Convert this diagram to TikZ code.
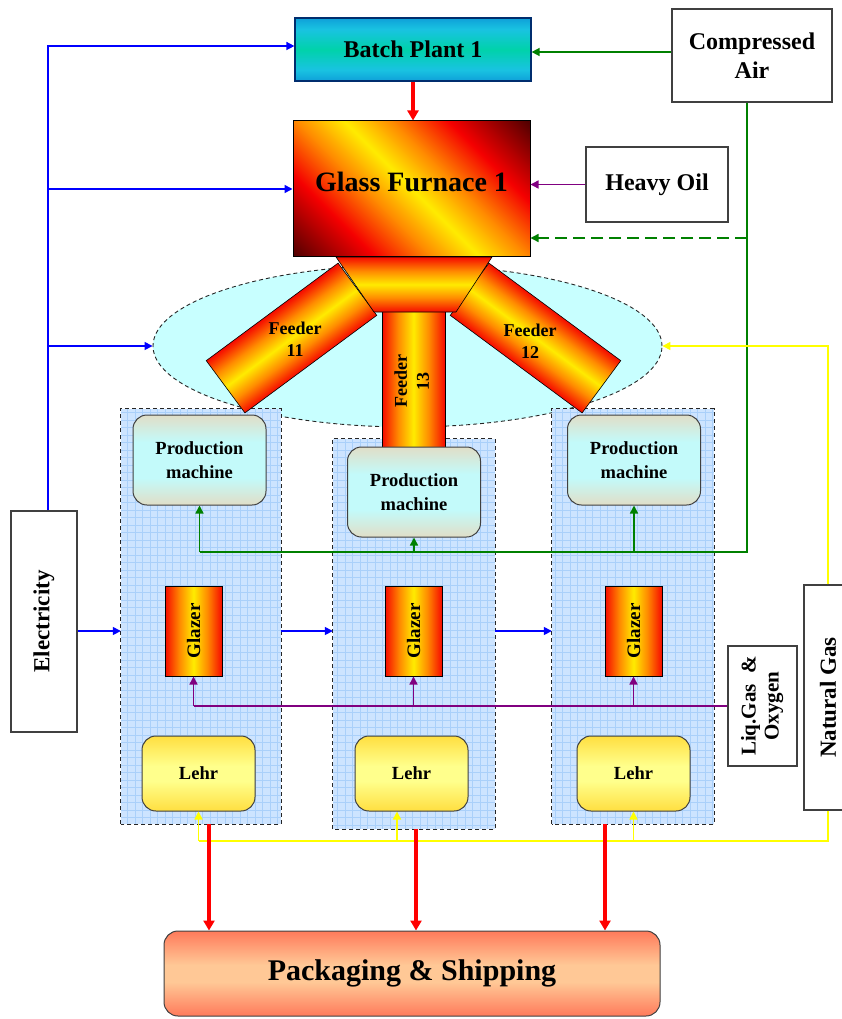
\documentclass[tikz,border=0pt]{standalone}
\usepackage{fontspec}
\setmainfont{Liberation Serif}
\usepackage{graphicx}
\usetikzlibrary{arrows.meta,calc,shapes.geometric}

\definecolor{boxgray}{RGB}{64,64,64}
\definecolor{bpdark}{RGB}{0,45,110}
\definecolor{bpblue}{RGB}{0,110,205}
\definecolor{bpcyan}{RGB}{25,195,225}
\definecolor{bpteal}{RGB}{0,210,170}
\definecolor{dkred}{RGB}{85,0,0}
\definecolor{mred}{RGB}{170,0,0}
\definecolor{rred}{RGB}{245,0,0}
\definecolor{orng}{RGB}{255,140,0}
\definecolor{yel}{RGB}{255,235,0}
\definecolor{peach}{RGB}{250,198,155}
\definecolor{lcyan}{RGB}{195,250,250}
\definecolor{gold}{RGB}{255,195,0}
\definecolor{lyel}{RGB}{255,255,140}
\definecolor{pkred}{RGB}{255,20,20}
\definecolor{pkmid}{RGB}{255,95,70}
\definecolor{pkpeach}{RGB}{255,200,150}
\definecolor{ellc}{RGB}{200,255,255}
\definecolor{colfill}{RGB}{205,228,255}
\definecolor{colgrid}{RGB}{170,208,250}
\definecolor{lnblue}{RGB}{0,0,255}
\definecolor{lngreen}{RGB}{0,128,0}
\definecolor{lnpurple}{RGB}{128,0,128}
\definecolor{lnyellow}{RGB}{255,255,0}
\definecolor{lnred}{RGB}{255,0,0}

\pgfdeclareverticalshading{batchsh}{100bp}{color(0bp)=(bpdark); color(12bp)=(bpblue); color(34bp)=(bpcyan); color(50bp)=(bpteal); color(66bp)=(bpcyan); color(88bp)=(bpblue); color(100bp)=(bpdark)}
\pgfdeclareverticalshading{furnsh}{100bp}{color(0bp)=(dkred); color(15bp)=(dkred); color(23bp)=(mred); color(30bp)=(rred); color(41bp)=(orng); color(50bp)=(yel); color(59bp)=(orng); color(70bp)=(rred); color(77bp)=(mred); color(85bp)=(dkred); color(100bp)=(dkred)}
\pgfdeclarehorizontalshading{glazsh}{100bp}{color(0bp)=(dkred); color(10bp)=(mred); color(24bp)=(rred); color(38bp)=(orng); color(50bp)=(yel); color(62bp)=(orng); color(76bp)=(rred); color(90bp)=(mred); color(100bp)=(dkred)}
\pgfdeclareverticalshading{feedsh}{100bp}{color(0bp)=(dkred); color(10bp)=(mred); color(24bp)=(rred); color(38bp)=(orng); color(50bp)=(yel); color(62bp)=(orng); color(76bp)=(rred); color(90bp)=(mred); color(100bp)=(dkred)}
\pgfdeclareverticalshading{prodsh}{100bp}{color(0bp)=(peach); color(12bp)=(peach); color(40bp)=(lcyan); color(60bp)=(lcyan); color(88bp)=(peach); color(100bp)=(peach)}
\pgfdeclareverticalshading{lehrsh}{100bp}{color(0bp)=(gold); color(8bp)=(gold); color(45bp)=(lyel); color(55bp)=(lyel); color(92bp)=(gold); color(100bp)=(gold)}
\pgfdeclareverticalshading{packsh}{100bp}{color(0bp)=(pkred); color(18bp)=(pkmid); color(45bp)=(pkpeach); color(55bp)=(pkpeach); color(82bp)=(pkmid); color(100bp)=(pkred)}

\newcommand\myfs[2]{\fontsize{#1}{#2}\selectfont\bfseries}

\tikzset{
  bx/.style={draw=boxgray, line width=1.2pt, inner sep=0pt, align=center, fill=white},
  colbox/.style={fill=colfill, inner sep=0pt, draw=none},
  colborder/.style={draw=black!85, line width=0.9pt, dash pattern=on 4pt off 3pt},
  gridln/.style={draw=colgrid, line width=0.5pt},
  pmbox/.style={draw=boxgray, line width=1pt, rounded corners=14pt, shade, shading=prodsh,
    minimum width=133pt, minimum height=90pt, inner sep=0pt, align=center, font={\myfs{18.5}{24}}},
  glbox/.style={draw=black, line width=1pt, shade, shading=glazsh,
    minimum width=57pt, minimum height=90pt, inner sep=0pt, font={\myfs{19}{22}}},
  lhbox/.style={draw=boxgray, line width=1pt, rounded corners=14pt, shade, shading=lehrsh,
    minimum width=113pt, minimum height=75pt, inner sep=0pt, font={\myfs{18.5}{22}}},
  fdborder/.style={draw=black, line width=0.6pt},
  thin/.style={line width=1.5pt, -{Triangle[length=8pt,width=8pt]}},
  bl/.style={thin, draw=lnblue},
  gr/.style={thin, draw=lngreen},
  pu/.style={thin, draw=lnpurple},
  ye/.style={thin, draw=lnyellow},
  rd/.style={line width=3.5pt, draw=lnred, -{Triangle[length=10pt,width=11pt]}},
}

\begin{document}
\begin{tikzpicture}[x=1pt,y=-1pt]
\useasboundingbox (0,0) rectangle (842,1019);
\fill[white] (0,0) rectangle (842,1019);
\clip (0,0) rectangle (842,1019);

% ellipse around the feeders
\node[ellipse, draw=black!85, line width=0.9pt, dash pattern=on 4pt off 3pt, fill=ellc,
  minimum width=509pt, minimum height=162pt, inner sep=0pt] (ell) at (407.5,346) {};

% production columns
\node[colbox, minimum width=160pt, minimum height=415pt] (col1) at (201,616.5) {};
\node[colbox, minimum width=162pt, minimum height=390pt] (col2) at (414,634) {};
\node[colbox, minimum width=162pt, minimum height=415pt] (col3) at (633,616.5) {};
\foreach \c in {col1,col2,col3}{
  \begin{scope}
    \clip (\c.south west) rectangle (\c.north east);
    \draw[gridln, step=7.5pt] (\c.south west) grid (\c.north east);
  \end{scope}
  \draw[colborder] (\c.south west) rectangle (\c.north east);
}

% feeders 11 and 12
\begin{scope}[transform canvas={shift={(291.5,338)},rotate=36.5}]
  \shade[shading=feedsh, fdborder] (-82,-32.5) rectangle (82,32.5);
\end{scope}
\begin{scope}[transform canvas={shift={(535.5,338)},rotate=-36.5}]
  \shade[shading=feedsh, fdborder] (-82,-32.5) rectangle (82,32.5);
\end{scope}
\node[font={\myfs{18}{22}}, align=center] (f11t) at (295,339) {Feeder\\11};
\node[font={\myfs{18}{22}}, align=center] (f12t) at (530,341) {Feeder\\12};

% feeder 13
\node[fdborder, shade, shading=glazsh, minimum width=63pt, minimum height=140pt, inner sep=0pt,
  font={\myfs{18}{22}}] (f13) at (413.5,381)
  {\rotatebox{90}{\begin{tabular}{@{}c@{}}Feeder\\13\end{tabular}}};

% throat (trapezoid)
\shade[shading=feedsh, fdborder] (336,257) -- (492,257) -- (456,312) -- (374,312) -- cycle;

% furnace
\node[draw=black, line width=1pt, shade, shading=furnsh, shading angle=-45,
  minimum width=237pt, minimum height=135pt, inner sep=0pt, text depth=14pt,
  font={\myfs{28}{32}}] (furn) at (411.5,188.5) {Glass Furnace 1};

% top boxes
\node[bx, draw=bpdark, shade, shading=batchsh, minimum width=236pt, minimum height=63pt,
  font={\myfs{24}{28}}] (batch) at (413,49.5) {Batch Plant 1};
\node[bx, minimum width=160pt, minimum height=93pt, font={\myfs{24}{29}}] (comp) at (752,55.5) {Compressed\\Air};
\node[bx, minimum width=142pt, minimum height=75pt, font={\myfs{24}{28}}] (heavy) at (657,184.5) {Heavy Oil};

% side boxes
\node[bx, minimum width=66pt, minimum height=221pt, font={\myfs{23}{27}}] (elec) at (44,621.5) {\rotatebox{90}{Electricity}};
\node[bx, minimum width=48pt, minimum height=225pt, font={\myfs{23}{27}}] (ng) at (828,697.5) {\rotatebox{90}{Natural Gas}};
\node[bx, minimum width=69pt, minimum height=120pt, font={\myfs{21}{23}}] (liq) at (762.5,706)
  {\rotatebox{90}{\begin{tabular}{@{}c@{}}Liq.Gas\ \ \&\\Oxygen\end{tabular}}};

% machines
\node[pmbox] (pm1) at (199.5,460) {Production\\machine};
\node[pmbox] (pm2) at (414,492) {Production\\machine};
\node[pmbox] (pm3) at (634,460) {Production\\machine};
\node[glbox] (gl1) at (193.5,631) {\rotatebox{90}{Glazer}};
\node[glbox] (gl2) at (413.5,631) {\rotatebox{90}{Glazer}};
\node[glbox] (gl3) at (633.5,631) {\rotatebox{90}{Glazer}};
\node[lhbox] (lh1) at (198.5,773.5) {Lehr};
\node[lhbox] (lh2) at (411.5,773.5) {Lehr};
\node[lhbox] (lh3) at (633.5,773.5) {Lehr};

% packaging
\node[draw=boxgray, line width=1pt, rounded corners=14pt, shade, shading=packsh,
  minimum width=496pt, minimum height=85pt, inner sep=0pt, font={\myfs{30}{34}}] (pack) at (412,973.5) {Packaging \& Shipping};

% ---- connectors ----
% electricity (blue)
\coordinate (bv1) at (48,46);
\coordinate (bv2) at (48,189);
\coordinate (bv3) at (48,346);
\coordinate (hy) at (0,631);
\draw[bl] (elec.north -| bv1) -- (bv1) -- (bv1 -| batch.west);
\draw[bl] (bv2) -- (bv2 -| furn.west);
\draw[bl] (bv3) -- (ell.west);
\draw[bl] (elec.east |- hy) -- (col1.west |- hy);
\draw[bl] (col1.east |- hy) -- (col2.west |- hy);
\draw[bl] (col2.east |- hy) -- (col3.west |- hy);

% compressed air (green)
\coordinate (gy) at (0,52);
\coordinate (gx) at (747,0);
\coordinate (gd) at (0,238);
\coordinate (gb) at (0,552);
\draw[gr] (comp.west |- gy) -- (batch.east |- gy);
\draw[lngreen, line width=1.5pt] (comp.south -| gx) -- (gx |- gb) -- (gb -| pm1.south);
\draw[gr, dash pattern=on 12pt off 6pt] (gx |- gd) -- (furn.east |- gd);
\draw[gr] (gb -| pm1.south) -- (pm1.south);
\draw[gr] (gb -| pm2.south) -- (pm2.south);
\draw[gr] (gb -| pm3.south) -- (pm3.south);

% heavy oil and liquid gas (purple)
\draw[pu] (heavy.west) -- (heavy.west -| furn.east);
\draw[lnpurple, line width=1.5pt] (liq.west) -- (liq.west -| gl1.south);
\draw[pu] (liq.west -| gl1.south) -- (gl1.south);
\draw[pu] (liq.west -| gl2.south) -- (gl2.south);
\draw[pu] (liq.west -| gl3.south) -- (gl3.south);

% natural gas (yellow)
\coordinate (yb) at (0,841);
\coordinate (y2) at (397,0);
\draw[ye] (ng.north) -- (ng.north |- ell.east) -- (ell.east);
\draw[lnyellow, line width=1.5pt] (ng.south) -- (ng.south |- yb) -- (yb -| lh1.south);
\draw[ye] (yb -| lh1.south) -- (lh1.south);
\draw[ye] (yb -| y2) -- (lh2.south -| y2);
\draw[ye] (yb -| lh3.south) -- (lh3.south);

% product flow (red)
\coordinate (r1) at (209,0);
\coordinate (r2) at (416,0);
\coordinate (r3) at (605,0);
\draw[rd] (batch.south) -- (batch.south |- furn.north);
\draw[rd] (col1.south -| r1) -- (pack.north -| r1);
\draw[rd] (col2.south -| r2) -- (pack.north -| r2);
\draw[rd] (col3.south -| r3) -- (pack.north -| r3);
\end{tikzpicture}
\end{document}
